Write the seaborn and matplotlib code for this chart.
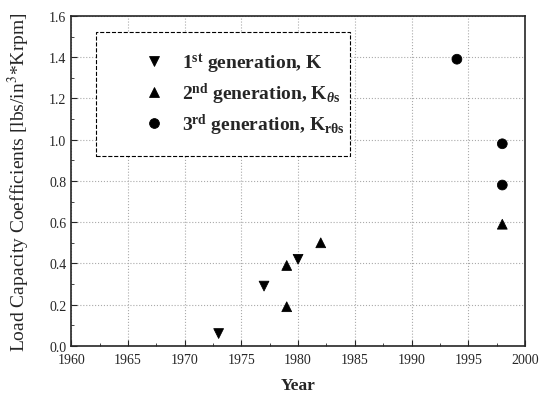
import pandas as pd
import numpy as np
import matplotlib.pyplot as plt
import seaborn as sns
from matplotlib.patches import Rectangle

gen1_year=[1973,1977,1980]
gen1_val=[0.06,0.29,0.42]
gen2_year=[1979,1979,1982,1998]
gen2_val=[0.19,0.39,0.50,0.59]
gen3_year=[1994,1998,1998]
gen3_val=[1.39,0.98,0.78]

labels=["1$^{\\rm st}$ generation, K",
        "2$^{\\rm nd}$ generation, K$_{\\theta \\rm s}$",
        "3$^{\\rm rd}$ generation, K$_{\\rm r\\theta s}$"]

data=pd.DataFrame({
    "Year":gen1_year+gen2_year+gen3_year,
    "Coef":gen1_val+gen2_val+gen3_val,
    "gen":[labels[0]]*len(gen1_year)+[labels[1]]*len(gen2_year)+[labels[2]]*len(gen3_year),
})

sns.set_style("ticks")
plt.rcParams['font.family']=['Liberation Serif','DejaVu Serif']
plt.rcParams['mathtext.fontset']='custom'
plt.rcParams['mathtext.rm']='Liberation Serif:bold'
plt.rcParams['mathtext.it']='Liberation Serif:italic:bold'

fig=plt.figure(figsize=(5.39,4.02),dpi=100)
ax=fig.add_axes([0.132,0.137,0.842,0.821])

sns.scatterplot(data=data,x="Year",y="Coef",style="gen",
                markers={labels[0]:"v",labels[1]:"^",labels[2]:"o"},
                color="black",s=50,edgecolor="black",ax=ax)

ax.set_xlim(1960,2000)
ax.set_ylim(0,1.6)
ax.set_xticks(np.arange(1960,2001,5))
ax.set_yticks(np.arange(0,1.61,0.2))
ax.set_yticklabels([f"{v:.1f}" for v in np.arange(0,1.61,0.2)])
ax.set_xticks(np.arange(1962.5,2000,5),minor=True)
ax.set_yticks(np.arange(0.1,1.6,0.2),minor=True)
ax.tick_params(direction="in",which="both",labelsize=10)
ax.tick_params(which="major",length=4)
ax.tick_params(which="minor",length=2)
ax.tick_params(axis="x",pad=5)
ax.grid(True,linestyle=":",color="#aaaaaa",linewidth=0.8)
for s in ax.spines.values():
    s.set_linewidth(1.2)

ax.set_xlabel("Year",fontsize=12.5,fontweight="bold",labelpad=8)
ax.set_ylabel("Load Capacity Coefficients [lbs/in$^{\\rm 3}$*Krpm]",fontsize=14,labelpad=12)
ax.yaxis.label.set_math_fontfamily("stix")

# legend box (white, dashed border) drawn separately
box=Rectangle((96/539,1-157/402),254/539,124/402,transform=fig.transFigure,
              facecolor="white",edgecolor="black",linestyle="--",linewidth=0.8,zorder=3)
ax.add_patch(box)

leg=ax.legend(loc="upper left",bbox_to_anchor=(139/539,1-52/402),
              bbox_transform=fig.transFigure,prop={"size":14,"weight":"bold"},
              frameon=False,borderpad=0,labelspacing=0.3,
              handletextpad=0.7,borderaxespad=0,handlelength=1.5)
leg.set_zorder(5)

plt.savefig("out.png",dpi=100)
